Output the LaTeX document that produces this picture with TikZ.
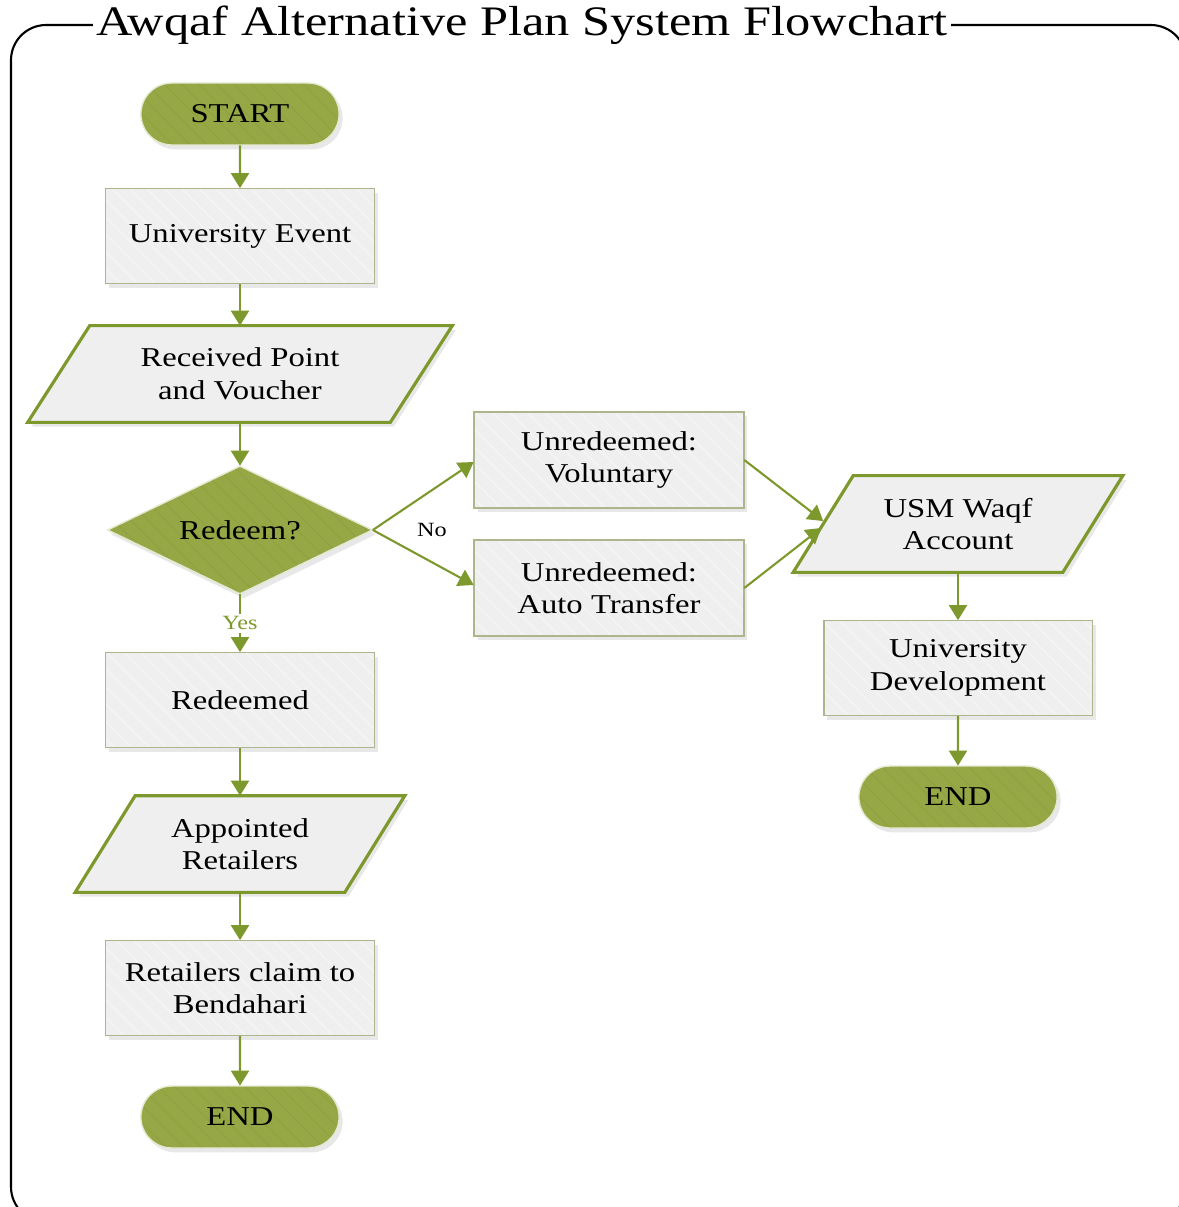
\documentclass[tikz,border=0pt]{standalone}
\usepackage{fontspec}
\setmainfont{Liberation Serif}[FakeStretch=1.2]
\usetikzlibrary{shapes.geometric,shapes.misc,arrows.meta,calc,shadows,backgrounds,patterns.meta}
\definecolor{olivefill}{RGB}{150,168,69}
\definecolor{olivestripe}{RGB}{143,161,64}
\definecolor{oliveline}{RGB}{125,152,44}
\definecolor{boxfill}{RGB}{239,239,239}
\definecolor{boxstripe}{RGB}{245,245,245}
\definecolor{boxborder}{RGB}{172,181,140}
\tikzset{
  px/.style={x=0.02cm,y=-0.02cm},
  nodefont/.style={font=\fontsize{15.5}{18.5}\selectfont},
  softshadow/.style={drop shadow={shadow xshift=2pt,shadow yshift=-2.5pt,opacity=0.18,fill=black!50}},
  term/.style={rounded rectangle, nodefont, minimum width=4.2cm, minimum height=1.24cm,
    fill=olivefill, softshadow,
    postaction={pattern={Lines[angle=-45,distance=7pt,line width=0.6pt]},pattern color=olivestripe},
    postaction={draw=white!75!olivefill, line width=0.8pt}},
  procbox/.style={rectangle, nodefont, align=center, minimum width=5.38cm, minimum height=1.9cm,
    fill=boxfill, softshadow,
    postaction={pattern={Lines[angle=-45,distance=7pt,line width=0.8pt]},pattern color=boxstripe},
    postaction={draw=boxborder, line width=1.1pt}},
  paratext/.style={rectangle, nodefont, align=center, minimum height=1.92cm, inner sep=0pt},
  parafill/.style={fill=boxfill, draw=oliveline, line width=1.8pt, line join=miter, softshadow},
  decision/.style={diamond, aspect=2, nodefont, minimum width=5.3cm, minimum height=2.56cm, inner sep=0pt,
    fill=olivefill, softshadow,
    postaction={pattern={Lines[angle=-45,distance=7pt,line width=0.6pt]},pattern color=olivestripe},
    postaction={draw=white!75!olivefill, line width=0.8pt}},
  flow/.style={draw=oliveline, line width=1.2pt, -{Triangle[length=0.3cm,width=0.36cm]}},
  lab/.style={font=\fontsize{11.5}{13}\selectfont, inner sep=1.5pt},
}
\newcommand\parashape[2]{%
  \draw[parafill] ($(#1.north west)+(#2,0)$) -- ($(#1.north east)+(#2,0)$) --
    ($(#1.south east)+(-#2,0)$) -- ($(#1.south west)+(-#2,0)$) -- cycle;}
\begin{document}
\begin{tikzpicture}[px]
\useasboundingbox (0,0) rectangle (1178,1207);
% frame
\draw[line width=1.2pt, rounded corners=20] (11,25) rectangle (1186,1222);
\node[fill=white, inner xsep=2pt, inner ysep=0pt, font=\fontsize{23.9}{26}\selectfont] (title) at (522,25) {Awqaf Alternative Plan System Flowchart};

% left column
\node[term] (start) at (240,114) {START};
\node[procbox] (uevent) at (240,236) {University Event};
\node[paratext, minimum width=7.24cm] (recv) at (240,374) {Received Point\\and Voucher};
\node[decision] (redeem) at (240,530) {Redeem?};
\node[procbox] (redeemed) at (240,700) {Redeemed};
\node[paratext, minimum width=5.38cm] (appt) at (240,844) {Appointed\\Retailers};
\node[procbox] (claim) at (240,988) {Retailers claim to\\Bendahari};
\node[term] (end1) at (240,1117) {END};

% middle column
\node[procbox, minimum width=5.4cm, minimum height=1.92cm] (vol) at (609,460) {Unredeemed:\\Voluntary};
\node[procbox, minimum width=5.4cm, minimum height=1.92cm] (auto) at (609,588) {Unredeemed:\\Auto Transfer};

% right column
\node[paratext, minimum width=5.38cm] (usm) at (958,524) {USM Waqf\\Account};
\node[procbox] (udev) at (958,668) {University\\Development};
\node[term] (end2) at (958,797) {END};

\begin{scope}[on background layer]
  \parashape{recv}{31}
  \parashape{appt}{30}
  \parashape{usm}{30}
\end{scope}

% connectors
\draw[flow] (start) -- (uevent);
\draw[flow] (uevent) -- (recv);
\draw[flow] (recv) -- (redeem);
\draw[flow] (redeem) -- node[lab, fill=white, text=oliveline] {Yes} (redeemed);
\draw[flow] (redeemed) -- (appt);
\draw[flow] (appt) -- (claim);
\draw[flow] (claim) -- (end1);
\draw[flow] (redeem.east) -- ($(vol.west)+(0,2)$);
\draw[flow] (redeem.east) -- ($(auto.west)+(0,-3)$);
\node[lab] (nolab) at (432,530) {No};
\draw[flow] (vol.east) -- ($(usm.west)+(0,-3)$);
\draw[flow] (auto.east) -- ($(usm.west)+(-2,4)$);
\draw[flow] (usm) -- (udev);
\draw[flow] (udev) -- (end2);
\end{tikzpicture}
\end{document}
